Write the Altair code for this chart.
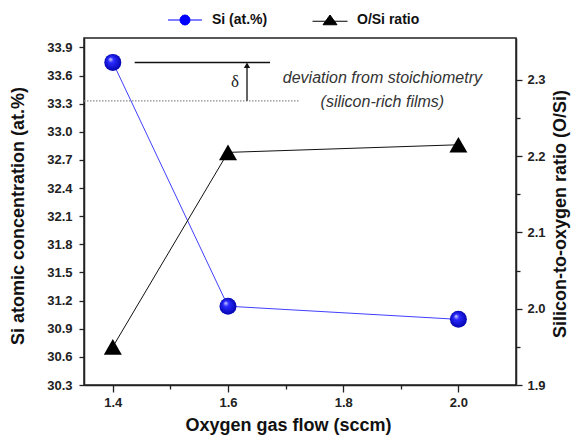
import altair as alt
import pandas as pd

# ---------------- data ----------------
flow = [1.4, 1.6, 2.0]
si_at = [33.74, 31.14, 31.00]
ratio = [1.95, 2.205, 2.215]

series_names = ["Si (at.%)", "O/Si ratio"]
series_colors = ["#0000ff", "#000000"]

x_ticks = [1.4, 1.6, 1.8, 2.0]
x_minor = [1.5, 1.7, 1.9]
left_ticks = [30.3, 30.6, 30.9, 31.2, 31.5, 31.8, 32.1, 32.4, 32.7, 33.0, 33.3, 33.6, 33.9]
right_ticks = [1.9, 2.0, 2.1, 2.2, 2.3]
right_minor = [1.95, 2.05, 2.15, 2.25]

x_domain = [1.35, 2.1]
left_domain = [30.3, 34.0]
right_domain = [1.9, 2.355]

# annotation values
stoich_level = 33.33
stoich_x = [1.35, 1.725]
dev_level = 33.74
dev_x = [1.438, 1.673]
arrow_x = 1.633
arrow_head = 33.71
delta_pos = [1.612, 33.53]
note_lines = ["deviation from stoichiometry", "(silicon-rich films)"]
note_x = [1.868, 1.868]
note_y = [33.57, 33.32]

W, H = 432, 347
FONT = "Liberation Sans"

df_si = pd.DataFrame({"flow": flow, "v": si_at})
df_ratio = pd.DataFrame({"flow": flow, "v": ratio})

xs = alt.Scale(domain=x_domain, nice=False, zero=False)
yl = alt.Scale(domain=left_domain, nice=False, zero=False)
yr = alt.Scale(domain=right_domain, nice=False, zero=False)

axis_common = dict(grid=False, domainColor="#222", domainWidth=1.5, tickColor="#222",
                   tickWidth=1.3, labelFont=FONT, labelFontSize=13, labelFontWeight="bold",
                   labelColor="#222", titleFont=FONT, titleFontSize=18, titleFontWeight="bold",
                   titleColor="#111")

x_major = alt.Axis(values=x_ticks, format=".1f", orient="bottom", tickSize=7, labelPadding=4,
                   title="Oxygen gas flow (sccm)", titleX=204, titleY=40,
                   titleAlign="center", titleBaseline="middle", **axis_common)
x_min_axis = alt.Axis(values=x_minor, orient="bottom", labels=False, domain=False, tickSize=4,
                      title=None, grid=False, tickColor="#222", tickWidth=1.3)
left_axis = alt.Axis(values=left_ticks, format=".1f", orient="left", tickSize=5, labelPadding=7,
                     title="Si atomic concentration (at.%)", titleAngle=-90, titleX=-66,
                     titleY=H / 2 + 4, titleAlign="center", titleBaseline="middle", **axis_common)
right_axis = alt.Axis(values=right_ticks, format=".1f", orient="right", tickSize=6, labelPadding=5,
                      title="Silicon-to-oxygen ratio (O/Si)", titleAngle=-90, titleX=44,
                      titleY=H / 2 + 2, titleAlign="center", titleBaseline="middle", **axis_common)
right_min_axis = alt.Axis(values=right_minor, orient="right", labels=False, domain=False, tickSize=4,
                          title=None, grid=False, tickColor="#222", tickWidth=1.3)

sphere = {"gradient": "radial", "x1": 0.35, "y1": 0.3, "r1": 0.0,
          "x2": 0.5, "y2": 0.5, "r2": 0.55,
          "stops": [{"offset": 0.0, "color": "#dcdcff"},
                    {"offset": 0.3, "color": "#2a2aff"},
                    {"offset": 1.0, "color": "#0000a8"}]}

# ---------------- left (Si) layers ----------------
base_si = alt.Chart(df_si)
si_line = base_si.mark_line(color="#4040ff", strokeWidth=1).encode(
    x=alt.X("flow:Q", scale=xs, axis=x_major),
    y=alt.Y("v:Q", scale=yl, axis=left_axis),
)
si_pts = base_si.mark_point(shape="circle", filled=True, fill=sphere, opacity=1,
                            size=289, strokeWidth=0).encode(
    x=alt.X("flow:Q", scale=xs, axis=None),
    y=alt.Y("v:Q", scale=yl, axis=None),
)

df_stoich = pd.DataFrame({"x": [stoich_x[0]], "x2": [stoich_x[1]], "y": [stoich_level]})
stoich_rule = alt.Chart(df_stoich).mark_rule(color="#8a8a8a", strokeWidth=1.2,
                                             strokeDash=[1.5, 1.5]).encode(
    x=alt.X("x:Q", scale=xs, axis=None), x2="x2:Q",
    y=alt.Y("y:Q", scale=yl, axis=None),
)
df_dev = pd.DataFrame({"x": [dev_x[0]], "x2": [dev_x[1]], "y": [dev_level]})
dev_rule = alt.Chart(df_dev).mark_rule(color="#111", strokeWidth=1.5).encode(
    x=alt.X("x:Q", scale=xs, axis=None), x2="x2:Q",
    y=alt.Y("y:Q", scale=yl, axis=None),
)
df_arrow = pd.DataFrame({"x": [arrow_x], "y": [stoich_level], "y2": [arrow_head]})
arrow_rule = alt.Chart(df_arrow).mark_rule(color="#111", strokeWidth=1.3).encode(
    x=alt.X("x:Q", scale=xs, axis=None),
    y=alt.Y("y:Q", scale=yl, axis=None), y2="y2:Q",
)
arrow_tip = alt.Chart(df_arrow).mark_point(shape="triangle-up", filled=True, color="#111",
                                           size=40, opacity=1).encode(
    x=alt.X("x:Q", scale=xs, axis=None),
    y=alt.Y("y2:Q", scale=yl, axis=None),
)
df_delta = pd.DataFrame({"x": [delta_pos[0]], "y": [delta_pos[1]], "t": ["δ"]})
delta_txt = alt.Chart(df_delta).mark_text(font="Liberation Serif", fontSize=17, color="#222").encode(
    x=alt.X("x:Q", scale=xs, axis=None),
    y=alt.Y("y:Q", scale=yl, axis=None),
    text="t:N",
)
df_note = pd.DataFrame({"x": note_x, "y": note_y, "t": note_lines})
note_txt = alt.Chart(df_note).mark_text(font=FONT, fontSize=16, fontStyle="italic",
                                        color="#333").encode(
    x=alt.X("x:Q", scale=xs, axis=None),
    y=alt.Y("y:Q", scale=yl, axis=None),
    text="t:N",
)

# ---------------- right (O/Si) layers ----------------
base_r = alt.Chart(df_ratio)
r_line = base_r.mark_line(color="#111", strokeWidth=1).encode(
    x=alt.X("flow:Q", scale=xs, axis=x_min_axis),
    y=alt.Y("v:Q", scale=yr, axis=right_axis),
)
r_pts = base_r.mark_point(shape="triangle-up", filled=True, color="#000", opacity=1,
                          size=324).encode(
    x=alt.X("flow:Q", scale=xs, axis=None),
    y=alt.Y("v:Q", scale=yr, axis=right_min_axis),
)

# ---------------- legend carrier ----------------
sym_sphere = "M-3.4,0H-1M1,0H3.4M1,0A1,1,0,1,1,-1,0A1,1,0,1,1,1,0Z"
sym_tri = "M-3.5,0.25H3.5M0,-1L1.4,0.95L-1.4,0.95Z"
df_leg = pd.DataFrame({"s": series_names})
legend = alt.Legend(orient="none", legendX=94, legendY=-25, direction="horizontal", title=None,
                    labelFont=FONT, labelFontSize=14, labelFontWeight="bold", labelColor="#111",
                    symbolSize=100, symbolStrokeWidth=1, symbolOpacity=1, labelOffset=20,
                    columnPadding=42, padding=0)
leg_layer = alt.Chart(df_leg).mark_point(filled=True, opacity=0).encode(
    fill=alt.Fill("s:N", scale=alt.Scale(domain=series_names, range=series_colors), legend=legend),
    stroke=alt.Stroke("s:N", scale=alt.Scale(domain=series_names, range=series_colors), legend=legend),
    shape=alt.Shape("s:N", scale=alt.Scale(domain=series_names, range=[sym_sphere, sym_tri]),
                    legend=legend),
)

chart = alt.layer(
    si_line, stoich_rule, dev_rule, arrow_rule, arrow_tip, delta_txt, note_txt,
    r_line, r_pts, si_pts, leg_layer,
).resolve_scale(y="independent").resolve_axis(x="independent").properties(
    width=W, height=H,
    autosize=alt.AutoSizeParams(type="none"),
    padding={"left": 84, "top": 38, "right": 571 - 84 - W, "bottom": 441 - 38 - H},
    background="white",
).configure_view(stroke="#222", strokeWidth=1.5)

chart.save("out.html", embed_options={"renderer": "svg", "actions": False})
